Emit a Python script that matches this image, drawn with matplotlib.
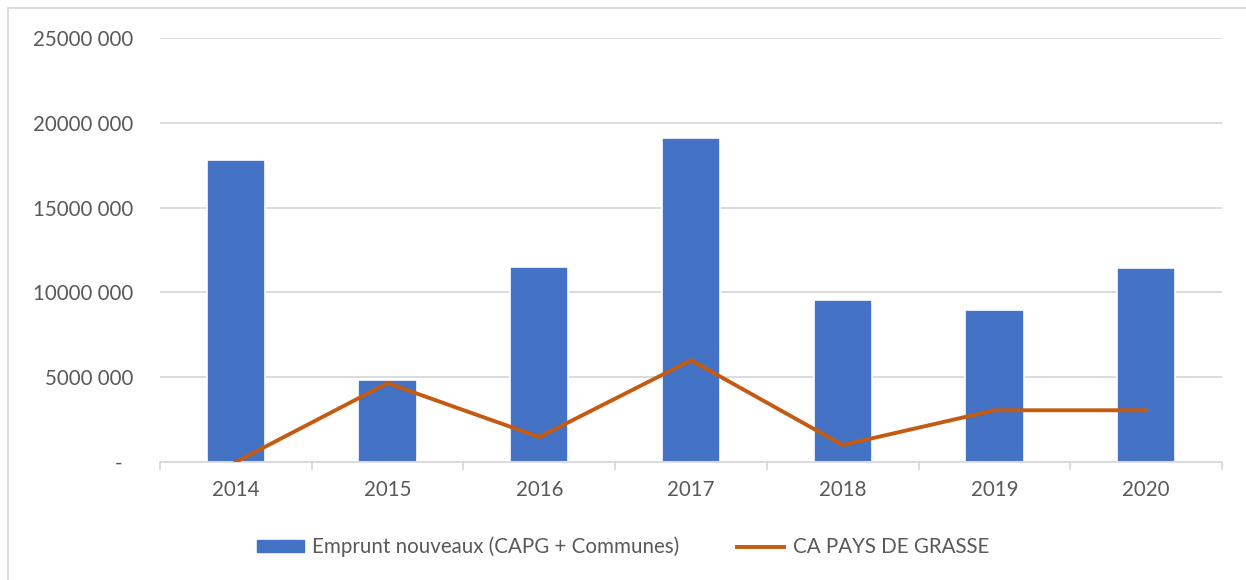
import matplotlib.pyplot as plt
from matplotlib.ticker import FuncFormatter, FixedLocator
from matplotlib.patches import Rectangle
from matplotlib.lines import Line2D

# values
years = ["2014", "2015", "2016", "2017", "2018", "2019", "2020"]
emprunt = [17800000, 4820000, 11470000, 19120000, 9530000, 8950000, 11450000]
ca_pays_grasse = [0, 4650000, 1470000, 6000000, 1000000, 3050000, 3050000]

BLUE = "#4472C4"
ORANGE = "#C55A11"
GRID = "#D9D9D9"
TEXT = "#595959"
FS = 14.8

plt.rcParams['font.family'] = ['Lato', 'DejaVu Sans']


def fmt_y(v, pos):
    """Excel style: '25000 000', zero shown as '-'."""
    if v == 0:
        return "-  "
    v = int(round(v))
    return f"{v // 1000} {v % 1000:03d}"


fig = plt.figure(figsize=(12.46, 5.8), dpi=100)
ax = fig.add_axes([160 / 1246, 1 - 462 / 580, (1222 - 160) / 1246, (462 - 38) / 580])

x = list(range(len(years)))
ax.bar(x, emprunt, width=0.385, color=BLUE, edgecolor="white", linewidth=1.2, zorder=2)
ax.plot(x, ca_pays_grasse, color=ORANGE, linewidth=2.8, solid_joinstyle="miter", zorder=3)

ax.set_xlim(-0.5, len(years) - 0.5)
ax.set_ylim(0, 25000000)
ax.set_yticks([0, 5000000, 10000000, 15000000, 20000000, 25000000])
ax.yaxis.set_major_formatter(FuncFormatter(fmt_y))
ax.grid(axis="y", color=GRID, linewidth=1.3, zorder=0)
ax.set_axisbelow(True)

# category labels in the middle, tick marks at the borders
ax.set_xticks(x)
ax.set_xticklabels(years)
ax.xaxis.set_minor_locator(FixedLocator([i - 0.5 for i in range(len(years) + 1)]))
ax.tick_params(axis="x", which="major", length=0, pad=13, labelsize=FS, labelcolor=TEXT)
ax.tick_params(axis="x", which="minor", length=6, width=1.3, color=GRID, direction="out")
ax.tick_params(axis="y", length=0, pad=19, labelsize=FS, labelcolor=TEXT)

for side in ["top", "right", "left"]:
    ax.spines[side].set_visible(False)
ax.spines["bottom"].set_color(GRID)
ax.spines["bottom"].set_linewidth(1.3)

# light outer border of the chart area
fig.patches.append(Rectangle((8 / 1246, -0.01), 1.0, 1 - 8 / 580 + 0.01,
                             transform=fig.transFigure, fill=False,
                             edgecolor=GRID, linewidth=1.3))

handles = [Rectangle((0, 0), 1, 1, color=BLUE),
           Line2D([0], [0], color=ORANGE, linewidth=2.8)]
labels = ["Emprunt nouveaux (CAPG + Communes)", "CA PAYS DE GRASSE"]
fig.legend(handles, labels, loc="center", bbox_to_anchor=(0.5, 1 - 547 / 580),
           ncol=2, frameon=False, fontsize=FS, labelcolor=TEXT,
           handlelength=2.3, handleheight=0.5, columnspacing=2.8, handletextpad=0.4)

fig.savefig("out.png", dpi=100)
